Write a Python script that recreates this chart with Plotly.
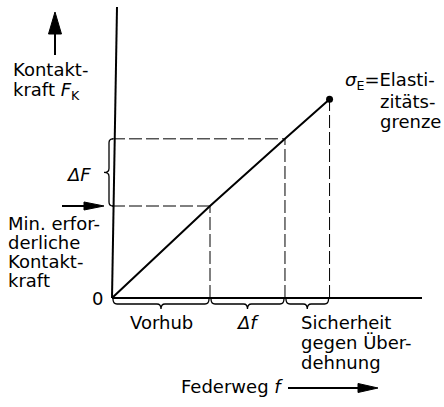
import plotly.graph_objects as go

# Federweg f und Kontaktkraft F_K (schematisch, relative Einheiten)
federweg = [0.0, 1.0, 1.765, 2.22]      # 0, Vorhub, Vorhub + Δf, Elastizitätsgrenze
kontaktkraft = [0.0, 1.0, 1.73, 2.16]   # 0, min. Kontaktkraft, Betriebskraft, σE

y_label = ["Kontakt-", "kraft <i>F</i><sub>K</sub>"]
min_label = ["Min. erfor-", "derliche", "Kontakt-", "kraft"]
sigma_label = ["<i>σ</i><sub>E</sub>=Elasti-", "zitäts-", "grenze"]
brace_labels = ["Vorhub", "<i>Δf</i>", "Sicherheit"]
safety_label = ["Sicherheit", "gegen Über-", "dehnung"]
x_label = "Federweg <i>f</i>"

W, H = 444, 407
X0, Y0 = 112, 298      # Ursprung in Pixeln
SX, SY = 98, 92        # Pixel je Einheit
FONT = dict(family="DejaVu Sans", size=18, color="black")


def px(f):
    return X0 + SX * f


def py(F):
    return Y0 - SY * F


def path(points, cmds):
    # points in pixels -> svg path in paper coords
    out = []
    for c, pts in zip(cmds, points):
        coords = " ".join(f"{x / W:.5f},{1 - y / H:.5f}" for x, y in pts)
        out.append(f"{c} {coords}")
    return " ".join(out)


fig = go.Figure()

# Kennlinie
fig.add_trace(go.Scatter(x=federweg, y=kontaktkraft, mode="lines",
                         line=dict(color="black", width=2), hoverinfo="skip"))
fig.add_trace(go.Scatter(x=federweg[-1:], y=kontaktkraft[-1:], mode="markers",
                         marker=dict(color="black", size=7), hoverinfo="skip"))

shapes = []
line = dict(color="black", width=2)
dash = dict(color="black", width=1, dash="13px,4px")

# Achsen
shapes.append(dict(type="line", xref="paper", yref="paper",
                   x0=X0 / W, y0=1 - Y0 / H, x1=117 / W, y1=1 - 7 / H, line=line))
shapes.append(dict(type="line", xref="paper", yref="paper",
                   x0=X0 / W, y0=1 - Y0 / H, x1=422 / W, y1=1 - Y0 / H, line=line))

# gestrichelte Hilfslinien
for f, F in zip(federweg[1:], kontaktkraft[1:]):
    shapes.append(dict(type="line", xref="x", yref="y", x0=f, y0=0, x1=f, y1=F, line=dash))
for f, F in zip(federweg[1:3], kontaktkraft[1:3]):
    shapes.append(dict(type="line", xref="x", yref="y", x0=0, y0=F, x1=f, y1=F, line=dash))

thin = dict(color="black", width=1.3)

# Klammer ΔF
ya, yb = py(kontaktkraft[2]), py(kontaktkraft[1])
ym = (ya + yb) / 2
bx = 109
shapes.append(dict(type="path", xref="paper", yref="paper", line=thin, path=path(
    [[(113, ya)], [(bx, ya), (bx, ya + 4)], [(bx, ym - 4)], [(bx, ym), (bx - 5, ym)],
     [(bx, ym), (bx, ym + 4)], [(bx, yb - 4)], [(bx, yb), (113, yb)]],
    ["M", "Q", "L", "Q", "Q", "L", "Q"])))

# Klammern unter der Abszisse
for fa, fb in zip(federweg[:-1], federweg[1:]):
    xa, xb = px(fa), px(fb)
    xm = (xa + xb) / 2
    shapes.append(dict(type="path", xref="paper", yref="paper", line=thin, path=path(
        [[(xa + 1, 299)], [(xa + 1, 304), (xa + 5, 304)], [(xm - 4, 304)],
         [(xm, 304), (xm, 309)], [(xm, 304), (xm + 4, 304)], [(xb - 5, 304)],
         [(xb - 1, 304), (xb - 1, 299)]],
        ["M", "Q", "L", "Q", "Q", "L", "Q"])))


def arrow(x0, y0, x1, y1, hl, hw):
    # Pfeil von (x0,y0) nach (x1,y1), Pixel
    dx, dy = x1 - x0, y1 - y0
    n = (dx * dx + dy * dy) ** 0.5
    ux, uy = dx / n, dy / n
    bx_, by_ = x1 - ux * hl, y1 - uy * hl
    shapes.append(dict(type="line", xref="paper", yref="paper",
                       x0=x0 / W, y0=1 - y0 / H, x1=(bx_ + ux * 2) / W, y1=1 - (by_ + uy * 2) / H,
                       line=dict(color="black", width=2)))
    tri = path([[(x1, y1)], [(bx_ - uy * hw, by_ + ux * hw)], [(bx_ + uy * hw, by_ - ux * hw)]],
               ["M", "L", "L"]) + " Z"
    shapes.append(dict(type="path", xref="paper", yref="paper", path=tri,
                       fillcolor="black", line=dict(color="black", width=1)))


arrow(55, 55, 55, 12, 22, 6.5)
arrow(62, 206, 104, 206, 20, 4)
arrow(288, 388, 378, 388, 20, 4.5)

annotations = []


def text(s, x, baseline, anchor="left"):
    annotations.append(dict(text=s, xref="paper", yref="paper", x=x / W,
                            y=1 - (baseline - 6) / H, xanchor=anchor, yanchor="middle",
                            showarrow=False, font=FONT))


for s, b in zip(y_label, [75, 97]):
    text(s, 11, b)
for s, b in zip(min_label, [229, 248, 267, 286]):
    text(s, 6, b)
text(sigma_label[0], 343, 87)
for s, b in zip(sigma_label[1:], [108, 128]):
    text(s, 378, b)
text("<i>ΔF</i>", 93, 180, "right")
text("0", 97, 304, "center")

for i, s in enumerate(brace_labels[:2]):
    text(s, (px(federweg[i]) + px(federweg[i + 1])) / 2, 328, "center")
for s, b in zip(safety_label, [328, 348, 368]):
    text(s, 299, b)
text(x_label, 179, 392)

fig.update_layout(
    width=W, height=H,
    margin=dict(l=0, r=0, t=0, b=0),
    paper_bgcolor="white", plot_bgcolor="white",
    showlegend=False,
    xaxis=dict(range=[-X0 / SX, (W - X0) / SX], visible=False, fixedrange=True),
    yaxis=dict(range=[(Y0 - H) / SY, Y0 / SY], visible=False, fixedrange=True),
    shapes=shapes,
    annotations=annotations,
)

fig.write_html("out.html", config={"displayModeBar": False},
               post_script="document.body.style.margin='0';")
